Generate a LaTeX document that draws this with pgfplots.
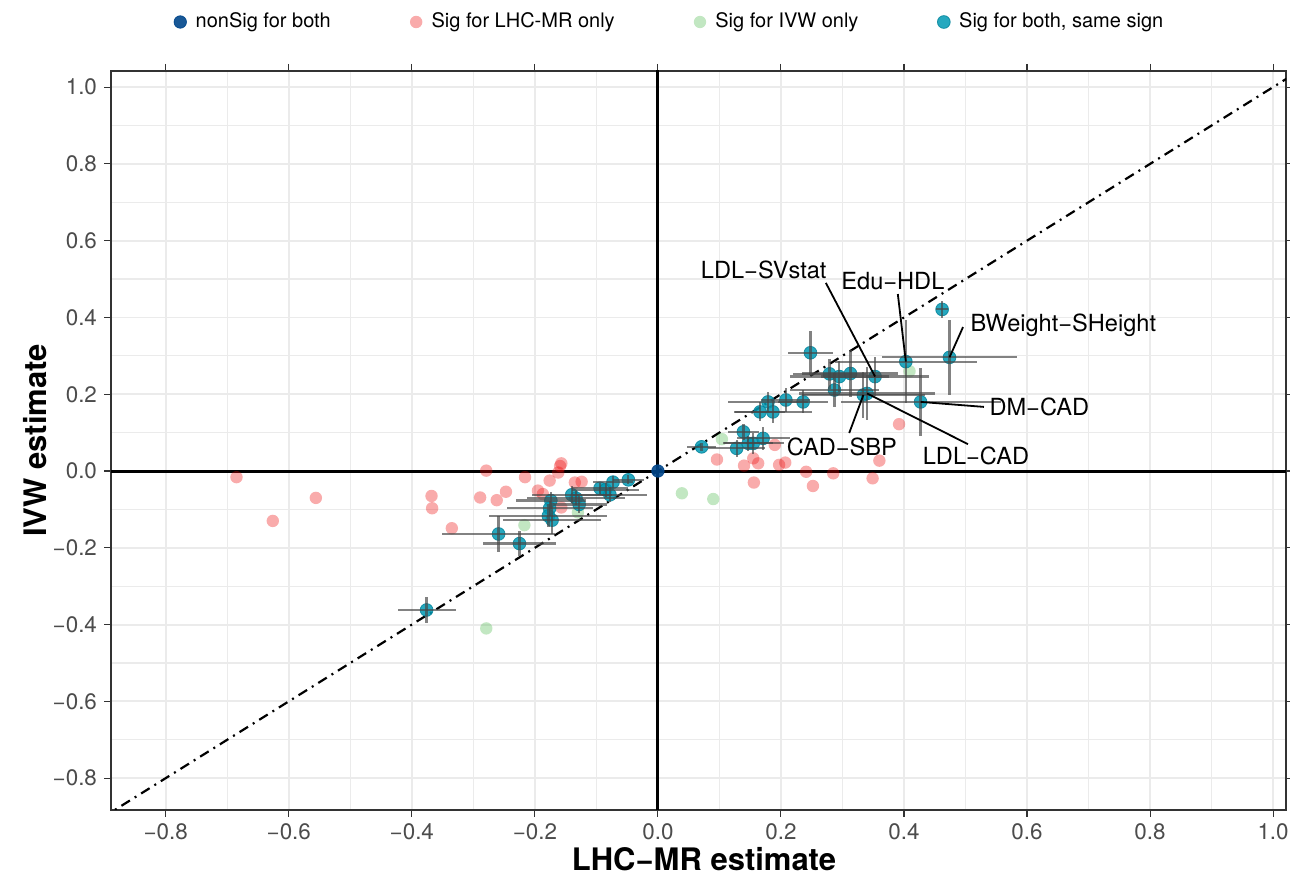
\documentclass[border=0pt]{standalone}
\usepackage{pgfplots}
\pgfplotsset{compat=1.18}
\usepackage{pgfplotstable}
\usepackage{fontspec}
\setmainfont{TeX Gyre Heros}
\definecolor{cnavy}{HTML}{00468B}
\definecolor{cred}{HTML}{ED0000}
\definecolor{cgreen}{HTML}{42B540}
\definecolor{cteal}{HTML}{0099B4}
\definecolor{gridc}{HTML}{EBEBEB}

\pgfplotstableread{
x y ex ey
-0.376 -0.362 0.047 0.034
-0.259 -0.164 0.092 0.048
-0.225 -0.189 0.060 0.033
-0.174 -0.077 0.057 0.022
-0.176 -0.097 0.070 0.020
-0.178 -0.117 0.096 0.030
-0.172 -0.128 0.080 0.036
-0.140 -0.062 0.065 0.022
-0.133 -0.071 0.080 0.018
-0.128 -0.087 0.045 0.022
-0.094 -0.045 0.045 0.015
-0.085 -0.049 0.055 0.018
-0.073 -0.029 0.033 0.015
-0.078 -0.062 0.060 0.020
-0.048 -0.023 0.025 0.012
0.071 0.063 0.023 0.010
0.139 0.102 0.025 0.020
0.128 0.059 0.046 0.022
0.147 0.072 0.040 0.020
0.155 0.072 0.050 0.028
0.171 0.085 0.043 0.030
0.179 0.180 0.065 0.025
0.166 0.154 0.040 0.025
0.187 0.154 0.064 0.030
0.208 0.185 0.040 0.030
0.236 0.180 0.040 0.030
0.248 0.308 0.036 0.058
0.279 0.253 0.060 0.040
0.295 0.246 0.080 0.040
0.313 0.254 0.078 0.060
0.287 0.211 0.072 0.045
0.353 0.246 0.088 0.050
0.334 0.198 0.100 0.060
0.340 0.202 0.110 0.070
0.403 0.285 0.115 0.108
0.462 0.421 0.010 0.022
0.474 0.296 0.110 0.098
0.427 0.180 0.130 0.089
}\tealdata

\pgfplotstableread{
x y
-0.685 -0.016
-0.626 -0.130
-0.556 -0.070
-0.368 -0.065
-0.367 -0.097
-0.335 -0.149
-0.279 0.001
-0.289 -0.069
-0.262 -0.076
-0.247 -0.054
-0.216 -0.016
-0.195 -0.051
-0.187 -0.060
-0.176 -0.025
-0.162 -0.004
-0.159 0.013
-0.157 0.020
-0.157 -0.095
-0.135 -0.030
-0.124 -0.028
0.096 0.030
0.140 0.014
0.155 0.033
0.163 0.020
0.156 -0.030
0.190 0.068
0.197 0.016
0.207 0.022
0.241 -0.002
0.252 -0.039
0.285 -0.006
0.349 -0.019
0.360 0.027
0.392 0.122
}\reddata

\pgfplotstableread{
x y
-0.279 -0.410
-0.217 -0.141
-0.130 -0.108
0.039 -0.058
0.090 -0.073
0.104 0.083
0.409 0.260
}\greendata

\begin{document}
\begin{tikzpicture}
\useasboundingbox (0,0) rectangle (645pt,438.5pt);
\begin{axis}[
  at={(55.5pt,33.5pt)}, anchor=south west,
  scale only axis, width=587.5pt, height=369.5pt,
  xmin=-0.889, xmax=1.021, ymin=-0.883, ymax=1.042,
  xtick={-0.8,-0.6,-0.4,-0.2,0,0.2,0.4,0.6,0.8,1.0},
  xticklabels={−0.8,−0.6,−0.4,−0.2,0.0,0.2,0.4,0.6,0.8,1.0},
  ytick={-0.8,-0.6,-0.4,-0.2,0,0.2,0.4,0.6,0.8,1.0},
  yticklabels={−0.8,−0.6,−0.4,−0.2,0.0,0.2,0.4,0.6,0.8,1.0},
  minor xtick={-0.7,-0.5,-0.3,-0.1,0.1,0.3,0.5,0.7,0.9},
  minor ytick={-0.7,-0.5,-0.3,-0.1,0.1,0.3,0.5,0.7,0.9},
  grid=both,
  major grid style={draw=gridc, line width=0.95pt},
  minor grid style={draw=gridc, line width=0.65pt},
  axis line style={draw=black!80, line width=0.6pt},
  tick align=outside, major tick length=3.5pt, minor tick length=0pt,
  major tick style={draw=black!80, line width=0.55pt},
  ticklabel style={font=\fontsize{11.2}{13}\selectfont, text=black!70},
  xlabel={LHC−MR estimate}, ylabel={IVW estimate},
  label style={font=\fontsize{15.5}{18}\selectfont\bfseries},
  xlabel style={at={(axis description cs:0.5047,-0.0665)}, anchor=center, inner sep=0pt},
  ylabel style={at={(axis description cs:-0.0647,0.5)}, anchor=center, inner sep=0pt},
  legend columns=4,
  legend style={at={(axis description cs:0.4741,1.0663)}, anchor=center, draw=none, fill=none,
    font=\fontsize{10}{12}\selectfont, /tikz/every even column/.append style={column sep=35pt}},
  legend image code/.code={\path[draw=none,fill=none] (0cm,-1pt) rectangle (0.4cm,1pt); \draw[mark repeat=2,mark phase=2,#1] plot coordinates {(0cm,0cm) (0.2cm,0cm) (0.4cm,0cm)};},
  clip mode=individual,
]
% reference lines
\addplot[forget plot, black, line width=1.1pt, dash pattern=on 5pt off 2.8pt on 1pt off 2.8pt] coordinates {(-1,-1) (1.1,1.1)};
\addplot[forget plot, black, line width=1.5pt] coordinates {(-1,0) (1.1,0)};
\addplot[forget plot, black, line width=1.5pt] coordinates {(0,-1) (0,1.1)};

\addplot[only marks, mark=*, mark size=3.1pt, mark options={fill=cnavy, draw=cnavy, fill opacity=0.9, draw opacity=0.9}] coordinates {(0,0)};
\addlegendentry{nonSig for both}
\addplot[only marks, mark=*, mark size=3.1pt, color=cred, mark options={fill=cred, draw=cred, fill opacity=0.33, draw opacity=0}] table[x=x,y=y] {\reddata};
\addlegendentry{Sig for LHC-MR only\hspace{10pt}}
\addplot[only marks, mark=*, mark size=3.1pt, color=cgreen, mark options={fill=cgreen, draw=cgreen, fill opacity=0.32, draw opacity=0}] table[x=x,y=y] {\greendata};
\addlegendentry{Sig for IVW only}
\addplot[only marks, mark=*, mark size=3.2pt, color=cteal, mark options={fill=cteal, draw=cteal!85!black, line width=0.4pt, fill opacity=0.85, draw opacity=0.8}] table[x=x,y=y] {\tealdata};
\addlegendentry{Sig for both, same sign}

% error bars on top
\addplot[forget plot, draw=none, mark=none,
  error bars/.cd, x dir=both, x explicit, y dir=both, y explicit, error mark=none,
  error bar style={draw=black!72, line width=1.1pt, draw opacity=0.68}]
  table[x=x,y=y,x error=ex,y error=ey] {\tealdata};

% annotations
\draw[black, line width=0.9pt] (axis cs:0.273,0.490) -- (axis cs:0.353,0.246);
\draw[black, line width=0.9pt] (axis cs:0.390,0.461) -- (axis cs:0.403,0.285);
\draw[black, line width=0.9pt] (axis cs:0.496,0.375) -- (axis cs:0.474,0.296);
\draw[black, line width=0.9pt] (axis cs:0.530,0.167) -- (axis cs:0.427,0.180);
\draw[black, line width=0.9pt] (axis cs:0.311,0.099) -- (axis cs:0.334,0.198);
\draw[black, line width=0.9pt] (axis cs:0.504,0.070) -- (axis cs:0.340,0.202);
\begin{scope}[every node/.style={font=\fontsize{11.8}{14}\selectfont, inner sep=1pt}]
\node at (axis cs:0.172,0.523) {LDL−SVstat};
\node at (axis cs:0.382,0.495) {Edu−HDL};
\node at (axis cs:0.659,0.380) {BWeight−SHeight};
\node at (axis cs:0.620,0.167) {DM−CAD};
\node at (axis cs:0.299,0.0625) {CAD−SBP};
\node at (axis cs:0.517,0.039) {LDL−CAD};
\end{scope}
\end{axis}
\end{tikzpicture}
\end{document}
